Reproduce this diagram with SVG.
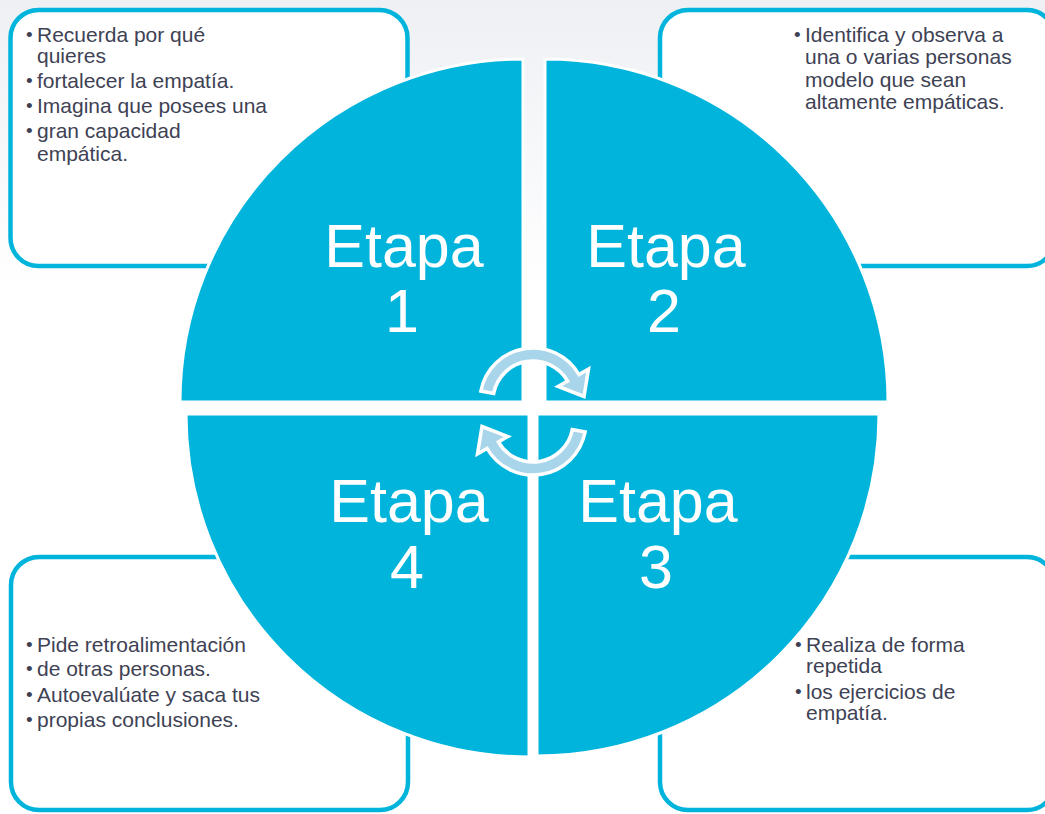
<svg xmlns="http://www.w3.org/2000/svg" width="1045" height="814" viewBox="0 0 1045 814">
  <defs>
    <linearGradient id="bg" x1="0" y1="0" x2="0" y2="1">
      <stop offset="0" stop-color="#EEF0F4"/>
      <stop offset="0.36" stop-color="#FFFFFF"/>
      <stop offset="1" stop-color="#FFFFFF"/>
    </linearGradient>
  </defs>
  <style>
    .box { fill: #FFFFFF; stroke: #00B4DC; stroke-width: 4.5; }
    .quad { fill: #00B4DC; stroke: #FFFFFF; stroke-width: 3; stroke-linejoin: miter; }
    .item { font-family: "Liberation Sans", Arial, sans-serif; font-size: 21px; fill: #3E4254; }
    .dot { font-family: "Liberation Sans", Arial, sans-serif; font-size: 19px; fill: #3E4254; }
    .stage { font-family: "Liberation Sans", Arial, sans-serif; font-size: 61px; fill: #FFFFFF; text-anchor: middle; }
    .cycle { fill: #A9D5EB; stroke: #FFFFFF; stroke-width: 3.5; stroke-linejoin: miter; }
  </style>

  <rect x="0" y="0" width="1045" height="814" fill="url(#bg)"/>

  <!-- note boxes, drawn under the circle -->
  <g id="note-1">
    <rect class="box" x="10.5" y="10" width="397" height="256" rx="28"/>
    <text class="dot" x="26" y="41">•</text>
    <text class="item" x="37" y="42">Recuerda por qué</text>
    <text class="item" x="37" y="63">quieres</text>
    <text class="dot" x="26" y="87">•</text>
    <text class="item" x="37" y="88">fortalecer la empatía.</text>
    <text class="dot" x="26" y="112">•</text>
    <text class="item" x="37" y="113">Imagina que posees una</text>
    <text class="dot" x="26" y="137">•</text>
    <text class="item" x="37" y="138">gran capacidad</text>
    <text class="item" x="37" y="161">empática.</text>
  </g>

  <g id="note-2">
    <rect class="box" x="660" y="10" width="395" height="256" rx="28"/>
    <text class="dot" x="794" y="41">•</text>
    <text class="item" x="805" y="42">Identifica y observa a</text>
    <text class="item" x="805" y="64">una o varias personas</text>
    <text class="item" x="805" y="87">modelo que sean</text>
    <text class="item" x="805" y="109">altamente empáticas.</text>
  </g>

  <g id="note-4">
    <rect class="box" x="11" y="557" width="397" height="253" rx="28"/>
    <text class="dot" x="26" y="651">•</text>
    <text class="item" x="37" y="652">Pide retroalimentación</text>
    <text class="dot" x="26" y="675">•</text>
    <text class="item" x="37" y="676">de otras personas.</text>
    <text class="dot" x="26" y="701">•</text>
    <text class="item" x="37" y="702">Autoevalúate y saca tus</text>
    <text class="dot" x="26" y="726">•</text>
    <text class="item" x="37" y="727">propias conclusiones.</text>
  </g>

  <g id="note-3">
    <rect class="box" x="660" y="557" width="395" height="253" rx="28"/>
    <text class="dot" x="795" y="651">•</text>
    <text class="item" x="806" y="652">Realiza de forma</text>
    <text class="item" x="806" y="673">repetida</text>
    <text class="dot" x="795" y="698">•</text>
    <text class="item" x="806" y="699">los ejercicios de</text>
    <text class="item" x="806" y="720">empatía.</text>
  </g>

  <!-- four quarter discs of the cycle -->
  <g id="stage-1">
    <path class="quad" d="M523,402 L180,402 A343,343 0 0 1 523,59 Z"/>
    <text class="stage" x="404" y="267">Etapa</text>
    <text class="stage" x="402" y="332">1</text>
  </g>
  <g id="stage-2">
    <path class="quad" d="M545,402 L545,59 A343,343 0 0 1 888,402 Z"/>
    <text class="stage" x="666" y="267">Etapa</text>
    <text class="stage" x="664" y="332">2</text>
  </g>
  <g id="stage-3">
    <path class="quad" d="M537,414 L879,414 A342,342 0 0 1 537,756 Z"/>
    <text class="stage" x="658" y="522">Etapa</text>
    <text class="stage" x="656" y="588">3</text>
  </g>
  <g id="stage-4">
    <path class="quad" d="M529,414 L529,757 A343,343 0 0 1 186,414 Z"/>
    <text class="stage" x="409" y="522">Etapa</text>
    <text class="stage" x="407" y="588">4</text>
  </g>

  <!-- circular arrows in the middle: band from 169deg to 30deg, head at the end -->
  <g id="connectors">
    <path id="arrow-top" class="cycle" d="M480.9,391 A53,53 0 0 1 578.9,374.5 L588.5,369 L584,396.5 L558.1,386.5 L567.6,381 A40,40 0 0 0 493.7,393.4 Z"/>
    <use href="#arrow-top" transform="rotate(180 533 411.5)"/>
  </g>
</svg>
